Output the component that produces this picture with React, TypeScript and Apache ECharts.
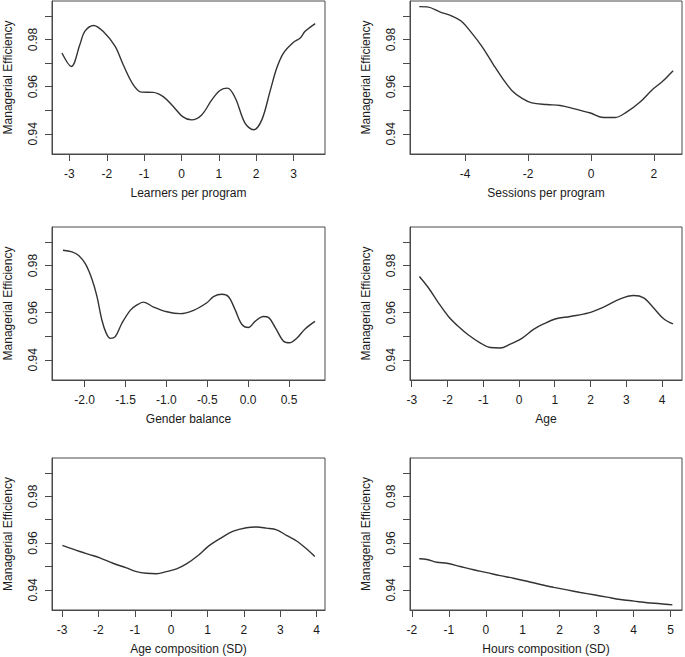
import React, { useEffect, useRef } from "react";
import * as echarts from "echarts";

// ---- data ----
const yTickValues = [0.94, 0.95, 0.96, 0.97, 0.98, 0.99];
const yLabelValues = [0.94, 0.96, 0.98];
const yTitle = "Managerial Efficiency";

const learnersTitle = "Learners per program";
const learnersTicks = [-3, -2, -1, 0, 1, 2, 3];
const learnersX = [-3.2, -2.95, -2.72, -2.59, -2.35, -2.1, -1.78, -1.56, -1.29, -1.07, -0.76, -0.49, -0.22, 0.03, 0.27, 0.54, 0.81, 1.03, 1.23, 1.44, 1.7, 1.93, 2.15, 2.37, 2.55, 2.73, 3.0, 3.18, 3.31, 3.58];
const learnersY = [0.9743, 0.9686, 0.9779, 0.9835, 0.986, 0.9835, 0.9772, 0.9693, 0.9608, 0.9577, 0.9576, 0.9558, 0.9516, 0.9473, 0.9459, 0.948, 0.9544, 0.9584, 0.9594, 0.9552, 0.9445, 0.9417, 0.9459, 0.958, 0.9679, 0.9743, 0.9789, 0.9807, 0.9835, 0.9868];

const sessionsTitle = "Sessions per program";
const sessionsTicks = [-4, -2, 0, 2];
const sessionsX = [-5.46, -5.21, -4.79, -4.42, -4.13, -3.84, -3.47, -3.1, -2.78, -2.51, -2.19, -1.88, -1.4, -0.98, -0.55, -0.02, 0.4, 0.77, 1.14, 1.57, 1.94, 2.26, 2.61];
const sessionsY = [0.994, 0.9939, 0.9917, 0.99, 0.9879, 0.9836, 0.9771, 0.9693, 0.9629, 0.9583, 0.955, 0.9531, 0.9524, 0.952, 0.9507, 0.9488, 0.9469, 0.9469, 0.9493, 0.9536, 0.9586, 0.9621, 0.9668];

const genderTitle = "Gender balance";
const genderTicks = [-2.0, -1.5, -1.0, -0.5, 0.0, 0.5];
const genderX = [-2.265, -2.155, -2.073, -1.99, -1.91, -1.85, -1.79, -1.735, -1.686, -1.625, -1.544, -1.442, -1.36, -1.28, -1.157, -0.994, -0.83, -0.668, -0.505, -0.424, -0.322, -0.24, -0.16, -0.078, 0.003, 0.085, 0.187, 0.248, 0.33, 0.43, 0.504, 0.594, 0.696, 0.818];
const genderY = [0.9865, 0.9858, 0.9843, 0.9807, 0.9742, 0.967, 0.957, 0.9512, 0.9491, 0.9498, 0.9555, 0.961, 0.9633, 0.9645, 0.9624, 0.9604, 0.9596, 0.961, 0.9642, 0.9668, 0.9678, 0.9668, 0.9613, 0.9551, 0.9537, 0.9563, 0.9584, 0.958, 0.9538, 0.948, 0.9472, 0.9491, 0.9531, 0.9563];

const ageTitle = "Age";
const ageTicks = [-3, -2, -1, 0, 1, 2, 3, 4];
const ageX = [-2.785, -2.533, -2.253, -1.973, -1.693, -1.413, -1.087, -0.807, -0.527, -0.247, 0.08, 0.407, 0.687, 1.013, 1.433, 1.947, 2.367, 2.833, 3.207, 3.487, 3.767, 4.047, 4.308];
const ageY = [0.9754, 0.9706, 0.9642, 0.9584, 0.9541, 0.9505, 0.9472, 0.9452, 0.945, 0.9466, 0.9491, 0.9529, 0.9552, 0.9573, 0.9584, 0.9599, 0.9624, 0.9659, 0.9673, 0.9663, 0.962, 0.9574, 0.9552];

const ageCompTitle = "Age composition (SD)";
const ageCompTicks = [-3, -2, -1, 0, 1, 2, 3, 4];
const ageCompX = [-2.99, -2.51, -2.24, -1.96, -1.6, -1.23, -0.95, -0.68, -0.4, -0.13, 0.15, 0.42, 0.74, 1.02, 1.34, 1.71, 2.07, 2.35, 2.62, 2.9, 3.17, 3.45, 3.72, 3.95];
const ageCompY = [0.959, 0.9564, 0.9551, 0.9537, 0.9514, 0.9494, 0.9478, 0.9471, 0.9469, 0.9478, 0.949, 0.9511, 0.9547, 0.9586, 0.9619, 0.9651, 0.9666, 0.9669, 0.9664, 0.9657, 0.9633, 0.9609, 0.9576, 0.9543];

const hoursTitle = "Hours composition (SD)";
const hoursTicks = [-2, -1, 0, 1, 2, 3, 4, 5];
const hoursX = [-1.8, -1.59, -1.32, -1.05, -0.69, -0.33, 0.03, 0.39, 0.75, 1.12, 1.48, 1.84, 2.2, 2.56, 2.92, 3.28, 3.64, 4.01, 4.37, 4.73, 5.05];
const hoursY = [0.9533, 0.953, 0.9518, 0.9514, 0.95, 0.9486, 0.9474, 0.9461, 0.945, 0.9437, 0.9423, 0.9411, 0.94, 0.9389, 0.9379, 0.9369, 0.9359, 0.9352, 0.9345, 0.9341, 0.9336];

// ---- layout (positions / scale extents) ----
const Y_MIN = 0.9314;
const Y_MAX = 0.9964;
const layout = [
  { left: 52, top: 1, width: 273, height: 153, xMin: -3.467, xMax: 3.842, digits: 0 },
  { left: 410, top: 1, width: 272, height: 153, xMin: -5.755, xMax: 2.893, digits: 0 },
  { left: 52, top: 227, width: 273, height: 153, xMin: -2.399, xMax: 0.94, digits: 1 },
  { left: 410, top: 227, width: 272, height: 153, xMin: -3.048, xMax: 4.56, digits: 0 },
  { left: 52, top: 458, width: 273, height: 152, xMin: -3.276, xMax: 4.23, digits: 0 },
  { left: 410, top: 458, width: 272, height: 152, xMin: -2.05, xMax: 5.31, digits: 0 },
];

const panelData = [
  { title: learnersTitle, ticks: learnersTicks, x: learnersX, y: learnersY },
  { title: sessionsTitle, ticks: sessionsTicks, x: sessionsX, y: sessionsY },
  { title: genderTitle, ticks: genderTicks, x: genderX, y: genderY },
  { title: ageTitle, ticks: ageTicks, x: ageX, y: ageY },
  { title: ageCompTitle, ticks: ageCompTicks, x: ageCompX, y: ageCompY },
  { title: hoursTitle, ticks: hoursTicks, x: hoursX, y: hoursY },
];

const FONT = "'Liberation Sans', Arial, sans-serif";
const BOX = "#4a4a4a";
const TEXT = "#1a1a1a";

export default function App() {
  const ref = useRef<HTMLDivElement>(null);
  useEffect(() => {
    if (!ref.current) return;
    const chart = echarts.init(ref.current, undefined, { renderer: "svg" });
    const grid: any[] = [];
    const xAxis: any[] = [];
    const yAxis: any[] = [];
    const series: any[] = [];
    panelData.forEach((p, i) => {
      const L = layout[i];
      grid.push({
        left: L.left,
        top: L.top,
        width: L.width,
        height: L.height,
        show: true,
        borderColor: BOX,
        borderWidth: 1,
        backgroundColor: "transparent",
        containLabel: false,
      });
      xAxis.push({
        type: "value",
        gridIndex: i,
        position: "bottom",
        min: L.xMin,
        max: L.xMax,
        name: p.title,
        nameLocation: "middle",
        nameGap: 33,
        nameTextStyle: { fontFamily: FONT, fontSize: 12, color: TEXT },
        axisLine: { show: true, onZero: false, lineStyle: { color: BOX, width: 1 } },
        axisTick: { show: true, inside: false, length: 7, customValues: p.ticks, lineStyle: { color: BOX, width: 1 } },
        axisLabel: {
          show: true,
          customValues: p.ticks,
          margin: 14,
          fontFamily: FONT,
          fontSize: 12,
          color: TEXT,
          formatter: (v: number) => v.toFixed(L.digits),
        },
        splitLine: { show: false },
      });
      yAxis.push({
        type: "value",
        gridIndex: i,
        position: "left",
        min: Y_MIN,
        max: Y_MAX,
        name: yTitle,
        nameLocation: "middle",
        nameGap: 38,
        nameRotate: 90,
        nameTextStyle: { fontFamily: FONT, fontSize: 12, color: TEXT },
        axisLine: { show: true, onZero: false, lineStyle: { color: BOX, width: 1 } },
        axisTick: { show: true, inside: false, length: 7, customValues: yTickValues, lineStyle: { color: BOX, width: 1 } },
        axisLabel: {
          show: true,
          customValues: yLabelValues,
          rotate: 90,
          margin: 13,
          fontFamily: FONT,
          fontSize: 12,
          color: TEXT,
          formatter: (v: number) => v.toFixed(2),
        },
        splitLine: { show: false },
      });
      series.push({
        type: "line",
        xAxisIndex: i,
        yAxisIndex: i,
        data: p.x.map((xv, k) => [xv, p.y[k]]),
        showSymbol: false,
        smooth: 0.35,
        lineStyle: { color: "#333333", width: 1.4 },
        silent: true,
      });
    });
    chart.setOption({
      animation: false,
      backgroundColor: "#ffffff",
      textStyle: { fontFamily: FONT },
      grid,
      xAxis,
      yAxis,
      series,
    });
    return () => chart.dispose();
  }, []);
  return (
    <div
      ref={ref}
      style={{ position: "fixed", left: 0, top: 0, width: 685, height: 657, background: "#fff" }}
    />
  );
}
